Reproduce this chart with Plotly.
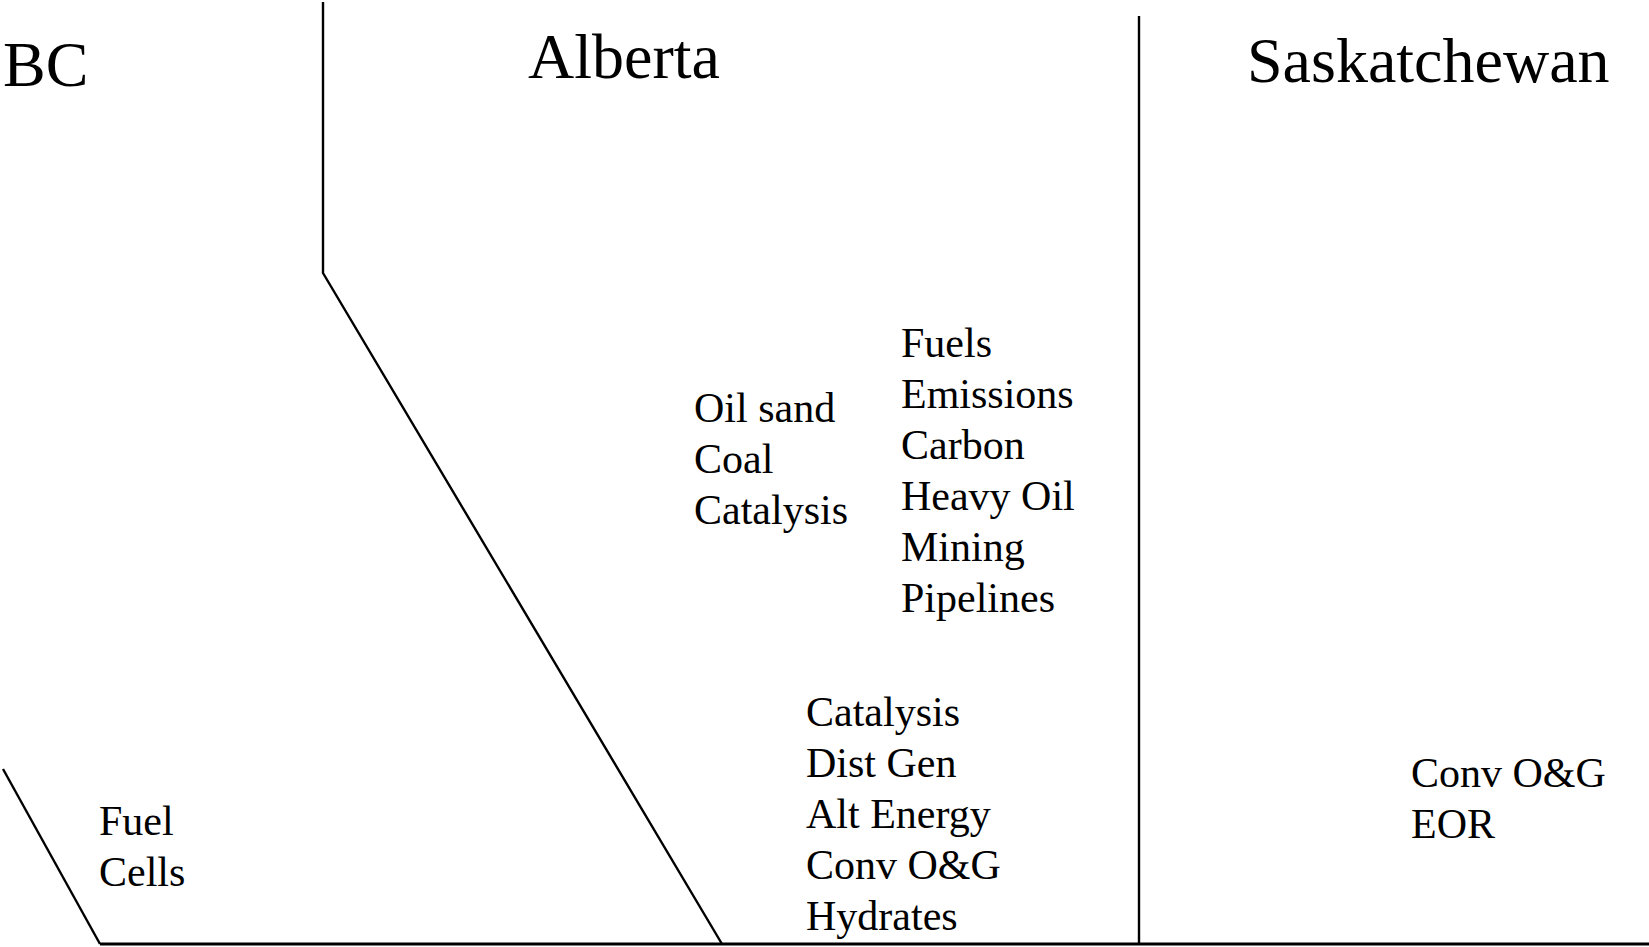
import plotly.graph_objects as go

# ---- content (text) ----
region_titles = ["BC", "Alberta", "Saskatchewan"]
bc_items = ["Fuel", "Cells"]
ab_items_left = ["Oil sand", "Coal", "Catalysis"]
ab_items_right = ["Fuels", "Emissions", "Carbon", "Heavy Oil", "Mining", "Pipelines"]
ab_items_south = ["Catalysis", "Dist Gen", "Alt Energy", "Conv O&G", "Hydrates"]
sk_items = ["Conv O&G", "EOR"]

# ---- boundary outline (map sketch, pixel space) ----
bc_border_x = [3, 100]
bc_border_y = [769, 944]
ab_west_x = [323, 323, 722]
ab_west_y = [2, 273, 944]
sk_west_x = [1139, 1139]
sk_west_y = [16, 944]
base_x = [100, 1649]
base_y = [944, 944]

W, H = 1649, 947
FONT = "Liberation Serif, Times New Roman, serif"
TITLE_SIZE = 64
ITEM_SIZE = 42
LINE_STEP = 51

fig = go.Figure()
for xs, ys, w in [(bc_border_x, bc_border_y, 2.4), (ab_west_x, ab_west_y, 2.4),
                  (sk_west_x, sk_west_y, 2.4), (base_x, base_y, 3)]:
    fig.add_trace(go.Scatter(x=xs, y=ys, mode="lines",
                             line=dict(color="black", width=w),
                             hoverinfo="skip", showlegend=False, cliponaxis=False))

def add_text(text, x, baseline, size):
    fig.add_annotation(x=x, y=baseline - 0.3375 * size, text=text,
                       xref="x", yref="y", xanchor="left", yanchor="middle",
                       showarrow=False, borderpad=0,
                       font=dict(family=FONT, size=size, color="black"))

title_pos = [(2, 86), (527, 78), (1246, 82)]
for t, (x, b) in zip(region_titles, title_pos):
    add_text(t, x, b, TITLE_SIZE)

groups = [
    (bc_items, 98, 835),
    (ab_items_left, 693, 422),
    (ab_items_right, 900, 357),
    (ab_items_south, 805, 726),
    (sk_items, 1410, 787),
]
for items, x, b0 in groups:
    for i, t in enumerate(items):
        add_text(t, x, b0 + i * LINE_STEP, ITEM_SIZE)

fig.update_layout(
    width=W, height=H,
    margin=dict(l=0, r=0, t=0, b=0),
    paper_bgcolor="white", plot_bgcolor="white",
    xaxis=dict(range=[0, W], visible=False, fixedrange=True),
    yaxis=dict(range=[H, 0], visible=False, fixedrange=True),
    showlegend=False,
)
fig.write_html("out.html",
               post_script="document.body.style.margin='0';document.body.style.overflow='hidden';",
               config={"displayModeBar": False})
